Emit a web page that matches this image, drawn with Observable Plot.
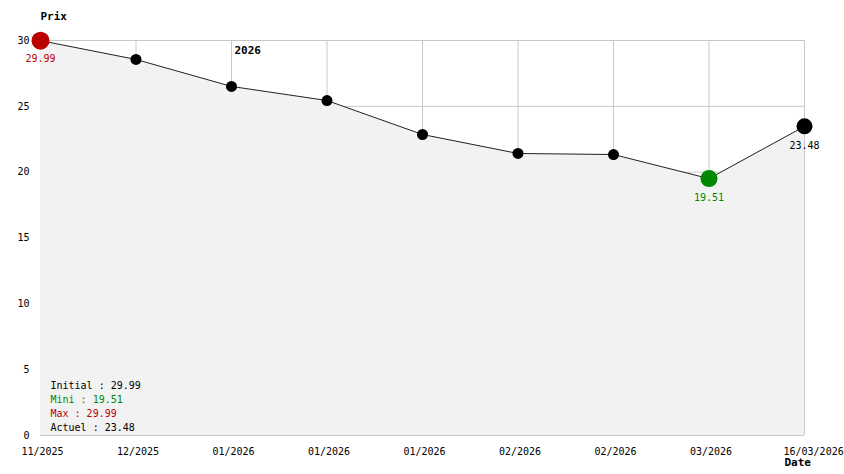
<!DOCTYPE html>
<html>
<head>
<meta charset="utf-8">
<script src="https://cdn.jsdelivr.net/npm/d3@7"></script>
<script src="https://cdn.jsdelivr.net/npm/@observablehq/plot@0.6"></script>
<style>
  html, body { margin: 0; padding: 0; background: #ffffff; }
  #chart svg { display: block; }
</style>
</head>
<body>
<div id="chart"></div>
<script>
// ---- data ----
const dateLabels = ["11/2025", "12/2025", "01/2026", "01/2026", "01/2026", "02/2026", "02/2026", "03/2026", "16/03/2026"];
const prices = [29.99, 28.56, 26.51, 25.44, 22.86, 21.42, 21.34, 19.51, 23.48];
const yTicks = [0, 5, 10, 15, 20, 25, 30];
const yearMarkers = [{index: 2, label: "2026"}];

const red = "#bb0000";
const green = "#008800";

const data = prices.map((v, i) => ({i, v, label: dateLabels[i]}));
const iFirst = 0;
const iLast = data.length - 1;
const iMin = d3.minIndex(prices);
const iMax = d3.maxIndex(prices);

const summary = [
  {text: `Initial : ${prices[iFirst].toFixed(2)}`, color: "#000000"},
  {text: `Mini : ${prices[iMin].toFixed(2)}`, color: green},
  {text: `Max : ${prices[iMax].toFixed(2)}`, color: red},
  {text: `Actuel : ${prices[iLast].toFixed(2)}`, color: "#000000"}
];

const small = data.filter(d => d.i !== iFirst && d.i !== iLast && d.i !== iMin && d.i !== iMax);
const font = "DejaVu Sans Mono";
const allIdx = d3.range(dateLabels.length);

const chart = Plot.plot({
  width: 844,
  height: 474,
  marginLeft: 40,
  marginRight: 40,
  marginTop: 40,
  marginBottom: 39,
  style: {fontFamily: font, fontSize: "10px", background: "#ffffff", color: "#000"},
  x: {type: "point", domain: allIdx, padding: 0, round: false},
  y: {type: "linear", domain: [0, 30]},
  marks: [
    // grid
    Plot.ruleY(yTicks, {stroke: "#c8c8c8", strokeWidth: 1}),
    Plot.ruleX(data.filter(d => d.i > 0), {x: "i", stroke: "#c8c8c8", strokeWidth: 1}),
    // area + line
    Plot.areaY(data, {x: "i", y: "v", fill: "#f2f2f2"}),
    Plot.lineY(data, {x: "i", y: "v", stroke: "#222222", strokeWidth: 1}),
    // axes
    Plot.axisY({ticks: yTicks, tickSize: 0, tickPadding: 11, label: null, fontSize: 10}),
    Plot.axisX({ticks: allIdx.slice(0, -1), tickFormat: i => dateLabels[i], tickSize: 0, tickPadding: 12,
      textAnchor: "start", dx: -19, label: null, fontSize: 10}),
    Plot.axisX({ticks: allIdx.slice(-1), tickFormat: i => dateLabels[i], tickSize: 0, tickPadding: 12,
      textAnchor: "start", dx: -21, label: null, fontSize: 10}),
    // year marker
    Plot.text(yearMarkers, {x: "index", y: () => 30, text: "label", textAnchor: "start", dx: 3, dy: 10,
      fontWeight: "bold", fontSize: 11, fill: "#000"}),
    // dots
    Plot.dot(small, {x: "i", y: "v", r: 5.5, fill: "#000", stroke: null}),
    Plot.dot([data[iLast]], {x: "i", y: "v", r: 8, fill: "#000", stroke: null}),
    Plot.dot([data[iMin]], {x: "i", y: "v", r: 8.5, fill: green, stroke: null}),
    Plot.dot([data[iMax]], {x: "i", y: "v", r: 9, fill: red, stroke: null}),
    // value labels
    Plot.text([data[iMax]], {x: "i", y: "v", text: d => d.v.toFixed(2), dy: 18, fill: red, fontSize: 10}),
    Plot.text([data[iMin]], {x: "i", y: "v", text: d => d.v.toFixed(2), dy: 19, fill: green, fontSize: 10}),
    Plot.text([data[iLast]], {x: "i", y: "v", text: d => d.v.toFixed(2), dy: 19, fill: "#000", fontSize: 10}),
    // summary block
    ...summary.map((s, k) => Plot.text([s], {frameAnchor: "bottom-left", text: "text", fill: s.color,
      textAnchor: "start", dx: 10, dy: -47 + k * 14, fontSize: 10})),
    // axis titles
    Plot.text(["Prix"], {frameAnchor: "top-left", text: d => d, textAnchor: "start", dy: -28,
      fontWeight: "bold", fontSize: 11, fill: "#000"}),
    Plot.text(["Date"], {frameAnchor: "bottom-right", text: d => d, textAnchor: "start", dx: -20, dy: 30,
      fontWeight: "bold", fontSize: 11, fill: "#000"})
  ]
});
document.getElementById("chart").appendChild(chart);
</script>
</body>
</html>
